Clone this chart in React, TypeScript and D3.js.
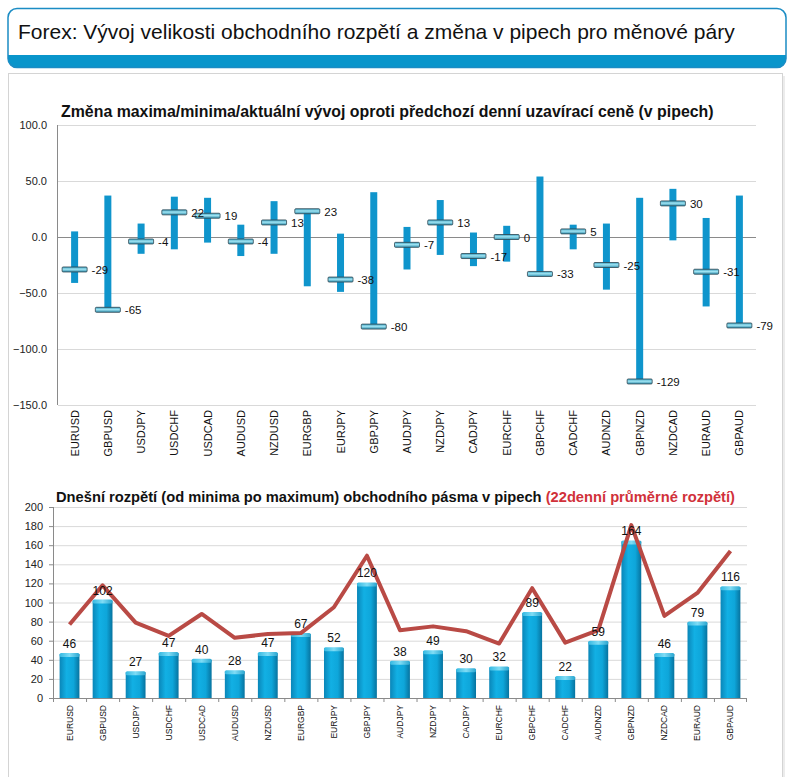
import { useEffect } from 'react';
import * as d3 from 'd3';

const pairs = [
  'EURUSD', 'GBPUSD', 'USDJPY', 'USDCHF', 'USDCAD', 'AUDUSD', 'NZDUSD',
  'EURGBP', 'EURJPY', 'GBPJPY', 'AUDJPY', 'NZDJPY', 'CADJPY', 'EURCHF',
  'GBPCHF', 'CADCHF', 'AUDNZD', 'GBPNZD', 'NZDCAD', 'EURAUD', 'GBPAUD'
];

// změna oproti předchozí denní uzavírací ceně (v pipech)
const maxima = [5, 37, 12, 36, 35, 11, 32, 23, 3, 40, 9, 33, 4, 10, 54, 11, 12, 35, 43, 17, 37];
const minima = [-41, -65, -15, -11, -5, -17, -15, -44, -49, -80, -29, -16, -26, -22, -35, -11, -47, -129, -3, -62, -79];
const aktualni = [-29, -65, -4, 22, 19, -4, 13, 23, -38, -80, -7, 13, -17, 0, -33, 5, -25, -129, 30, -31, -79];

// dnešní rozpětí a 22denní průměr
const rozpeti = [46, 102, 27, 47, 40, 28, 47, 67, 52, 120, 38, 49, 30, 32, 89, 22, 59, 164, 46, 79, 116];
const prumer22 = [77, 118, 79, 65, 88, 63, 67, 68, 95, 149, 71, 75, 70, 57, 115, 58, 71, 181, 86, 110, 154];

const topTicks = [-150, -100, -50, 0, 50, 100];
const botTicks = [0, 20, 40, 60, 80, 100, 120, 140, 160, 180, 200];

const FONT = '"Liberation Sans", Arial, sans-serif';

export default function App() {
  useEffect(() => {
    document.body.style.margin = '0';
  }, []);

  // horní graf
  const yTop = d3.scaleLinear().domain([-150, 100]).range([405, 125]);
  const xTop = d3.scaleBand().domain(pairs).range([58, 756]);
  const bwTop = xTop.bandwidth();
  const cTop = (p: string) => (xTop(p) as number) + bwTop / 2;

  // dolní graf
  const yBot = d3.scaleLinear().domain([0, 200]).range([698, 507]);
  const xBot = d3.scaleBand().domain(pairs).range([53, 747]).paddingInner(0.4).paddingOuter(0.2);
  const stepBot = xBot.step();
  const cBot = (p: string) => (xBot(p) as number) + xBot.bandwidth() / 2;
  const line = d3.line<number>()
    .x((_, i) => cBot(pairs[i]))
    .y(d => yBot(d));

  return (
    <svg width={797} height={777} style={{ display: 'block', fontFamily: FONT }}>
      <defs>
        <clipPath id="hdrClip">
          <rect x={8} y={8.5} width={778} height={59} rx={9} />
        </clipPath>
        <linearGradient id="marker" x1="0" y1="0" x2="0" y2="1">
          <stop offset="0" stopColor="#3a9fbf" />
          <stop offset="0.45" stopColor="#9fe3f2" />
          <stop offset="1" stopColor="#2f8fae" />
        </linearGradient>
        <linearGradient id="bar" x1="0" y1="0" x2="1" y2="0">
          <stop offset="0" stopColor="#0a86b8" />
          <stop offset="0.35" stopColor="#12b0e4" />
          <stop offset="0.7" stopColor="#0ea6da" />
          <stop offset="1" stopColor="#07739f" />
        </linearGradient>
        <linearGradient id="cap" x1="0" y1="0" x2="1" y2="0">
          <stop offset="0" stopColor="#34b9e2" />
          <stop offset="0.5" stopColor="#7fdcf5" />
          <stop offset="1" stopColor="#2aa6d0" />
        </linearGradient>
      </defs>

      <rect width={797} height={777} fill="#ffffff" />

      {/* hlavička */}
      <g clipPath="url(#hdrClip)">
        <rect x={8} y={8.5} width={778} height={59} fill="#ffffff" />
        <rect x={8} y={55} width={778} height={13} fill="#0995cb" />
      </g>
      <rect x={8} y={8.5} width={778} height={59} rx={9} fill="none" stroke="#1b8cc4" strokeWidth={1.5} />
      <text x={18} y={39} fontSize={21} fill="#111">
        Forex: Vývoj velikosti obchodního rozpětí a změna v pipech pro měnové páry
      </text>

      {/* panel */}
      <rect x={8.5} y={73.5} width={774} height={720} fill="#ffffff" stroke="#d4d4d4" />
      <line x1={784} y1={76} x2={784} y2={777} stroke="#ececec" strokeWidth={2} />

      {/* horní graf */}
      <text x={61} y={117} fontSize={15.9} fontWeight="bold" fill="#111">
        Změna maxima/minima/aktuální vývoj oproti předchozí denní uzavírací ceně (v pipech)
      </text>
      {topTicks.map(t => (
        <g key={t}>
          <line x1={58} x2={756} y1={yTop(t) + 0.5} y2={yTop(t) + 0.5}
            stroke={t === 0 ? '#8a8a8a' : '#d9d9d9'} />
          <text x={47} y={yTop(t) + 4} fontSize={11} textAnchor="end" fill="#222">
            {d3.format('.1f')(t)}
          </text>
        </g>
      ))}
      <line x1={57.5} x2={57.5} y1={125} y2={405} stroke="#8a8a8a" />
      {pairs.map((p, i) => {
        const cx = cTop(p);
        const yc = yTop(aktualni[i]);
        return (
          <g key={p}>
            <rect x={cx - 3.5} width={7} y={yTop(maxima[i])} height={yTop(minima[i]) - yTop(maxima[i])} fill="#0f95cc" />
            <rect x={cx - 12.5} width={25} y={yc - 2.5} height={5} rx={1}
              fill="url(#marker)" stroke="#2e4652" strokeWidth={0.8} />
            <text transform={`translate(${cx + 4},410) rotate(-90)`} fontSize={11}
              textAnchor="end" fill="#111">{p}</text>
          </g>
        );
      })}
      {pairs.map((p, i) => (
        <text key={p} x={cTop(p) + 17} y={yTop(aktualni[i]) + 4.5} fontSize={11.5} fill="#111">
          {aktualni[i]}
        </text>
      ))}

      {/* dolní graf */}
      <text x={56} y={502} fontSize={14.7} fontWeight="bold" fill="#111">
        Dnešní rozpětí (od minima po maximum) obchodního pásma v pipech{' '}
        <tspan fill="#d1313a">(22denní průměrné rozpětí)</tspan>
      </text>
      {botTicks.map(t => (
        <g key={t}>
          {t > 0 && (
            <line x1={53} x2={747} y1={yBot(t) + 0.5} y2={yBot(t) + 0.5} stroke="#d9d9d9" />
          )}
          <line x1={49} x2={53} y1={yBot(t) + 0.5} y2={yBot(t) + 0.5} stroke="#8a8a8a" />
          <text x={43} y={yBot(t) + 4} fontSize={11} textAnchor="end" fill="#222">{t}</text>
        </g>
      ))}
      {pairs.map((p, i) => {
        const x0 = xBot(p) as number;
        const w = xBot.bandwidth();
        const y = yBot(rozpeti[i]);
        return (
          <g key={p}>
            <rect x={x0} width={w} y={y} height={698 - y} fill="url(#bar)" />
            <rect x={x0} width={w} y={y - 1} height={4} rx={1.5} fill="url(#cap)" />
            <text transform={`translate(${cBot(p) + 3},705) rotate(-90)`} fontSize={8.5}
              textAnchor="end" fill="#111">{p}</text>
          </g>
        );
      })}
      <path d={line(prumer22) ?? ''} fill="none" stroke="#b94a45" strokeWidth={4} strokeLinejoin="round" />
      {pairs.map((p, i) => (
        <text key={p} x={cBot(p)} y={yBot(rozpeti[i]) - 6} fontSize={12} textAnchor="middle" fill="#111">
          {rozpeti[i]}
        </text>
      ))}
      <line x1={53.5} x2={53.5} y1={507} y2={698} stroke="#8a8a8a" />
      <line x1={53} x2={747} y1={698.5} y2={698.5} stroke="#8a8a8a" />
      {d3.range(pairs.length + 1).map(i => (
        <line key={i} x1={53.5 + i * stepBot - (i === pairs.length ? 1 : 0)} x2={53.5 + i * stepBot - (i === pairs.length ? 1 : 0)}
          y1={698} y2={702} stroke="#8a8a8a" />
      ))}
    </svg>
  );
}
